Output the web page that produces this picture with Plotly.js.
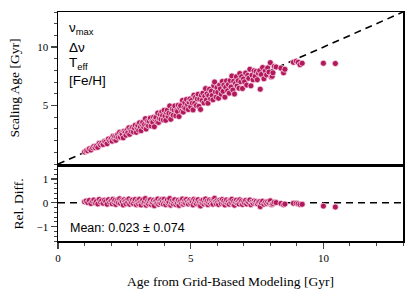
<!DOCTYPE html>
<html>
<head>
<meta charset="utf-8">
<script src="https://cdn.plot.ly/plotly-3.0.1.min.js"></script>
<style>html,body{margin:0;padding:0;background:#fff;}#chart{width:415px;height:295px;}</style>
</head>
<body>
<div id="chart"></div>
<script>
// Grid-based modeling age [Gyr] (x) and scaling-relation age [Gyr] (y)
const gridAge = [
1.00,1.06,1.12,1.18,1.24,1.30,1.35,1.40,1.45,1.50,1.55,1.60,1.65,1.70,1.75,1.80,1.85,1.90,1.95,
2.00,2.04,2.07,2.11,2.14,2.18,2.21,2.25,2.28,2.32,2.35,2.39,2.42,2.46,2.49,2.53,2.56,2.60,2.63,2.67,2.70,2.74,2.77,2.81,2.84,2.88,2.91,2.95,2.98,
3.01,3.04,3.07,3.10,3.13,3.16,3.19,3.23,3.26,3.29,3.32,3.35,3.38,3.41,3.44,3.48,3.51,3.54,3.57,3.60,3.63,3.66,3.69,3.73,3.76,3.79,3.82,3.85,3.88,3.91,3.94,3.97,
4.00,4.03,4.06,4.09,4.12,4.15,4.18,4.21,4.25,4.28,4.31,4.34,4.37,4.40,4.44,4.47,4.50,4.53,4.56,4.59,4.62,4.66,4.69,4.72,4.75,4.78,4.81,4.84,4.88,4.91,4.94,4.97,
5.00,5.03,5.06,5.09,5.12,5.15,5.18,5.21,5.25,5.28,5.31,5.34,5.37,5.40,5.43,5.46,5.50,5.53,5.56,5.59,5.62,5.65,5.68,5.71,5.75,5.78,5.81,5.84,5.87,5.90,5.93,5.96,5.99,
6.02,6.05,6.09,6.12,6.15,6.19,6.22,6.25,6.29,6.32,6.35,6.39,6.42,6.45,6.49,6.52,6.55,6.59,6.62,6.65,6.69,6.72,6.75,6.79,6.82,6.85,6.89,6.92,6.95,6.99,
7.03,7.07,7.11,7.15,7.19,7.23,7.27,7.31,7.35,7.39,7.43,7.47,7.51,7.55,7.60,7.62,7.66,7.71,7.76,7.81,7.86,7.90,7.95,
8.00,8.03,8.07,8.10,8.15,8.22,8.40,8.50,8.55,8.87,8.98,9.05,9.12,9.20,
10.00,10.45
];
const scalingAge = [
1.04,1.14,1.13,1.30,1.20,1.39,1.51,1.40,1.54,1.43,1.77,1.65,1.80,1.67,1.94,1.89,1.74,2.15,1.99,
2.16,1.96,2.38,2.17,2.35,2.03,2.34,2.52,2.28,2.71,2.30,2.61,2.52,2.24,2.81,2.68,2.46,2.89,2.68,3.10,2.54,2.96,2.80,3.15,2.75,3.08,3.32,2.71,3.10,
3.31,2.89,3.53,3.16,2.85,3.38,3.57,3.17,3.39,3.88,2.99,3.38,3.68,3.27,3.65,3.93,3.26,3.65,3.57,4.00,3.19,3.84,3.99,3.62,4.36,3.56,3.90,4.24,3.84,4.46,4.14,3.77,
4.60,4.11,3.74,4.38,4.61,4.07,4.35,4.97,3.83,4.32,4.70,4.17,4.63,4.97,4.13,4.60,4.50,5.03,4.06,4.82,4.99,4.52,5.44,4.44,4.85,5.26,4.76,5.52,5.08,4.66,5.29,5.57,
4.90,5.43,5.21,4.63,5.89,5.20,5.70,5.00,5.57,5.97,4.94,5.55,4.67,5.89,5.43,6.06,5.23,5.81,6.45,5.48,6.01,5.20,5.85,6.40,5.58,6.24,5.87,5.49,6.69,7.02,6.17,5.72,6.53,
6.14,5.63,6.76,6.43,5.97,7.06,6.22,6.75,5.72,6.57,7.11,6.26,6.81,6.06,7.14,6.59,7.53,6.33,7.08,5.99,6.89,7.46,6.68,7.13,6.48,7.74,7.03,7.47,6.46,7.27,
7.03,7.78,6.75,7.58,7.33,8.10,6.69,7.60,7.20,7.98,7.50,7.92,7.21,7.78,7.98,6.40,7.66,8.25,7.29,7.97,7.62,8.22,7.87,
8.67,7.45,7.50,7.80,8.35,8.30,8.20,7.80,8.10,8.70,8.80,8.70,8.50,8.62,
8.62,8.60
];
// Relative difference shown in the lower panel: (scaling - grid) / grid
const relDiff = gridAge.map((g, i) => (scalingAge[i] - g) / g);

const oneToOne = [0, 13];
const zeroLine = [0, 0];
const xRangeLine = [0, 13];

const markerStyle = {color: '#b2185c', size: 6, line: {color: 'rgba(255,235,245,0.85)', width: 0.8}};

const traces = [
  {x: oneToOne, y: oneToOne, xaxis: 'x2', yaxis: 'y2', mode: 'lines',
   line: {color: 'black', width: 1.6, dash: '7px,5px'}, hoverinfo: 'skip'},
  {x: gridAge, y: scalingAge, xaxis: 'x2', yaxis: 'y2', mode: 'markers', marker: markerStyle},
  {x: xRangeLine, y: zeroLine, xaxis: 'x', yaxis: 'y', mode: 'lines',
   line: {color: 'black', width: 1.6, dash: '7px,5px'}, hoverinfo: 'skip'},
  {x: gridAge, y: relDiff, xaxis: 'x', yaxis: 'y', mode: 'markers', marker: markerStyle}
];

const serif = 'Liberation Serif, Times New Roman, serif';
const sans = 'Liberation Sans, Arial, sans-serif';

const layout = {
  width: 415, height: 295,
  margin: {l: 58, r: 12, t: 12, b: 54},
  showlegend: false,
  paper_bgcolor: 'white', plot_bgcolor: 'white',
  font: {family: serif, size: 11, color: 'black'},
  xaxis: {
    anchor: 'y', domain: [0, 1], range: [0, 13],
    tickvals: [0, 5, 10], ticks: 'outside', ticklen: 6, tickwidth: 1.2,
    minor: {dtick: 1, ticks: 'outside', ticklen: 3, tickwidth: 1},
    showline: true, linecolor: 'black', linewidth: 1.5, mirror: true,
    showgrid: false, zeroline: false,
    tickfont: {family: serif, size: 11},
    title: {text: 'Age from Grid-Based Modeling [Gyr]', font: {family: serif, size: 13.5}, standoff: 14}
  },
  yaxis: {
    anchor: 'x', domain: [0, 0.323], range: [-1.6, 1.5],
    tickvals: [-1, 0, 1], ticks: 'outside', ticklen: 6, tickwidth: 1.2,
    minor: {dtick: 0.2, ticks: 'outside', ticklen: 3, tickwidth: 1},
    showline: true, linecolor: 'black', linewidth: 1.5, mirror: true,
    showgrid: false, zeroline: false,
    tickfont: {family: serif, size: 11},
    title: {text: 'Rel. Diff.', font: {family: serif, size: 13.5}, standoff: 10}
  },
  xaxis2: {
    anchor: 'y2', domain: [0, 1], range: [0, 13], matches: 'x',
    showticklabels: false, ticks: '',
    showline: true, linecolor: 'black', linewidth: 1.5, mirror: true,
    showgrid: false, zeroline: false
  },
  yaxis2: {
    anchor: 'x2', domain: [0.336, 1], range: [0, 13],
    tickvals: [5, 10], ticks: 'outside', ticklen: 6, tickwidth: 1.2,
    minor: {dtick: 1, ticks: 'outside', ticklen: 3, tickwidth: 1},
    showline: true, linecolor: 'black', linewidth: 1.5, mirror: true,
    showgrid: false, zeroline: false,
    tickfont: {family: serif, size: 11},
    title: {text: 'Scaling Age [Gyr]', font: {family: serif, size: 13.5}, standoff: 14}
  },
  annotations: [
    {xref: 'paper', yref: 'paper', x: 0.026, y: 0.930, xanchor: 'left', yanchor: 'middle', showarrow: false,
     text: 'ν<sub>max</sub>', font: {family: sans, size: 13.5}},
    {xref: 'paper', yref: 'paper', x: 0.026, y: 0.843, xanchor: 'left', yanchor: 'middle', showarrow: false,
     text: 'Δν', font: {family: sans, size: 13.5}},
    {xref: 'paper', yref: 'paper', x: 0.026, y: 0.777, xanchor: 'left', yanchor: 'middle', showarrow: false,
     text: 'T<sub>eff</sub>', font: {family: sans, size: 13.5}},
    {xref: 'paper', yref: 'paper', x: 0.026, y: 0.703, xanchor: 'left', yanchor: 'middle', showarrow: false,
     text: '[Fe/H]', font: {family: sans, size: 13.5}},
    {xref: 'paper', yref: 'paper', x: 0.029, y: 0.057, xanchor: 'left', yanchor: 'middle', showarrow: false,
     text: 'Mean: 0.023 ± 0.074', font: {family: sans, size: 12.5}}
  ]
};

Plotly.newPlot('chart', traces, layout, {staticPlot: true, displayModeBar: false});
</script>
</body>
</html>
